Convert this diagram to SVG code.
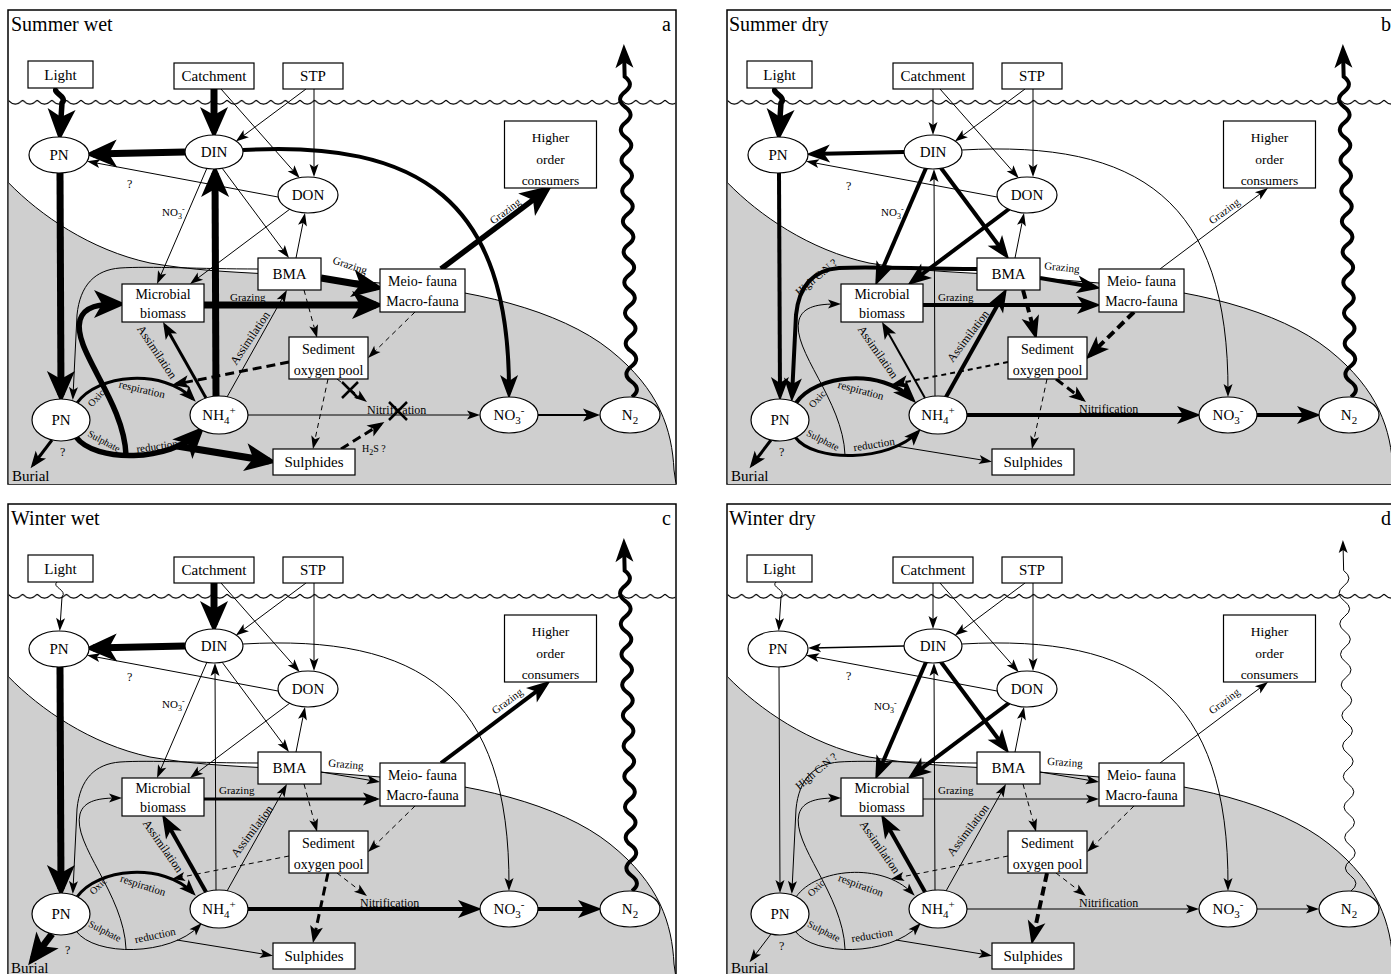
<svg xmlns="http://www.w3.org/2000/svg" xmlns:xlink="http://www.w3.org/1999/xlink" width="1391" height="974" viewBox="0 0 1391 974">
<style>
text{font-family:"Liberation Serif","DejaVu Serif",serif;fill:#000}
.frame{fill:#fff;stroke:#000;stroke-width:1.5}
.sed{fill:#cfcfcf}
.sedline{fill:none;stroke:#000;stroke-width:1}
.nd rect,.nd ellipse{fill:#fff;stroke:#000;stroke-width:1.2}
.nd text{text-anchor:middle}
.f15{font-size:15px}
.f14{font-size:14px}
.f13{font-size:13.5px}
.f12{font-size:12px}
.f11{font-size:11px}
.f10{font-size:10px}
.f8{font-size:8px}
.mid{text-anchor:middle}
.ttl{font-size:20px}
.conn{stroke:#000}
.w1{stroke-width:1;marker-end:url(#h1)}
.w15{stroke-width:1.6;marker-end:url(#h1)}
.w2{stroke-width:2;marker-end:url(#h2)}
.w3{stroke-width:3;marker-end:url(#h2)}
.w4{stroke-width:4;marker-end:url(#h3)}
.w5{stroke-width:5.5;marker-end:url(#h4)}
.w7{stroke-width:7;marker-end:url(#h4)}
.d{stroke-dasharray:5 4}
.dd{stroke-dasharray:9 5}
.xmark{stroke:#000;stroke-width:2.5;fill:none}
</style>
<defs>
  <!-- barbed arrowheads, tip sits a few px beyond the path end -->
  <marker id="h1" markerUnits="userSpaceOnUse" orient="auto" markerWidth="30" markerHeight="30" overflow="visible"><path d="M4,0 L-9,-4.5 L-6,0 L-9,4.5 Z" fill="#000"/></marker>
  <marker id="h2" markerUnits="userSpaceOnUse" orient="auto" markerWidth="30" markerHeight="30" overflow="visible"><path d="M4,0 L-13,-6.5 L-9,0 L-13,6.5 Z" fill="#000"/></marker>
  <marker id="h3" markerUnits="userSpaceOnUse" orient="auto" markerWidth="30" markerHeight="30" overflow="visible"><path d="M6,0 L-18,-9 L-12,0 L-18,9 Z" fill="#000"/></marker>
  <marker id="h4" markerUnits="userSpaceOnUse" orient="auto" markerWidth="40" markerHeight="40" overflow="visible"><path d="M8,0 L-24,-14 L-16,0 L-24,14 Z" fill="#000"/></marker>

  <!-- water surface ripple -->
  <pattern id="surf" patternUnits="userSpaceOnUse" x="8" y="99" width="14.6" height="8"><path d="M0,1.2 Q7.3,9 14.6,1.2" fill="none" stroke="#000" stroke-width="1.2"/></pattern>

  <!-- sediment body -->
  <path id="sed-shape" d="M8.75,183 C40,215 90,250 150,263 C190,270 230,272 270,274 L380,283 C470,288 560,310 610,350 C660,390 672,430 674,470 L676,484 L8.75,484 Z"/>
  <path id="sed-edge" d="M8.75,183 C40,215 90,250 150,263 C190,270 230,272 270,274 L380,283 C470,288 560,310 610,350 C660,390 672,430 674,470 L676,484"/>

  <!-- flux geometry shared by the four seasonal panels -->
  <path id="k-light" fill="none" d="M57,88 C51,93 68,96 62,103 L60,133"/>
  <path id="k-catch-din" fill="none" d="M214,89 L214,131"/>
  <path id="k-catch-don" fill="none" d="M221,89 L297,175"/>
  <path id="k-stp-din" fill="none" d="M306,89 L239,139"/>
  <path id="k-stp-don" fill="none" d="M314,89 L314,173"/>
  <path id="k-din-pn" fill="none" d="M185,152 L93,154"/>
  <path id="k-don-pn" fill="none" d="M278,197 L91,162"/>
  <path id="k-din-no3" fill="none" d="M243,150 C420,140 510,200 509,393"/>
  <path id="k-pn-pn" fill="none" d="M60,173 L61,395"/>
  <path id="k-nh4-din" fill="none" d="M216,396 L215,173"/>
  <path id="k-din-mic" fill="none" d="M207,168 L158.6,280.3"/>
  <path id="k-don-mic" fill="none" d="M290,209 L193.2,281.6"/>
  <path id="k-din-bma" fill="none" d="M222,168 L286.6,254.8"/>
  <path id="k-bma-don" fill="none" d="M296,258 L304.2,216.9"/>
  <path id="k-bma-meio" fill="none" d="M321,278 L376,287.3"/>
  <path id="k-mic-meio" fill="none" d="M204,305 L376,305"/>
  <path id="k-meio-hoc" fill="none" d="M441,269 L545.8,190.4"/>
  <path id="k-nh4-mic" fill="none" d="M206,398 L165,325.5"/>
  <path id="k-nh4-bma" fill="none" d="M227,397 L285,293.5"/>
  <path id="k-bma-sed" fill="none" d="M304,290 L316,334"/>
  <path id="k-meio-sed" fill="none" d="M415,312 L370.9,355.2"/>
  <path id="k-sed-oxic" fill="none" d="M289,362 L176,384.2"/>
  <path id="k-sed-nit" fill="none" d="M337,379 L363.8,399.6"/>
  <path id="k-sed-sul" fill="none" d="M328,379 L313.8,445"/>
  <path id="k-sul-nit" fill="none" d="M341,449 L381,424"/>
  <path id="k-nh4-no3" fill="none" d="M248,415 L476,415"/>
  <path id="k-no3-n2" fill="none" d="M538,415 L596,415"/>
  <path id="k-oxic" fill="none" d="M77,403 C97,374 163,368 193,399"/>
  <path id="k-sulph" fill="none" d="M76,437 C95,463 170,462 199,432"/>
  <path id="k-sulph-sul" fill="none" d="M177,446 L269,461"/>
  <path id="k-loop" fill="none" d="M126,455 C124,400 72,350 80,320 C84,306 100,304 118,304"/>
  <path id="k-bma-pn" fill="none" d="M258,269 C200,269 150,266 120,268 C95,270 80,285 77,315 L73,396"/>
  <path id="k-burial" fill="none" d="M52,440 L33,465"/>
  <path id="k-n2" fill="none" d="M632,397 q10,-7.63 -0.35,-15.26 t-0.35,-15.26 t-0.35,-15.26 t-0.35,-15.26 t-0.35,-15.26 t-0.35,-15.26 t-0.35,-15.26 t-0.35,-15.26 t-0.35,-15.26 t-0.35,-15.26 t-0.35,-15.26 t-0.35,-15.26 t-0.35,-15.26 t-0.35,-15.26 t-0.35,-15.26 t-0.35,-15.26 t-0.35,-15.26 t-0.35,-15.26 t-0.35,-15.26 t-0.35,-15.26 t-0.35,-15.26 L624,50"/>
</defs>

<rect width="1391" height="974" fill="#fff"/>

<!-- ===================== Summer wet ===================== -->
<g id="panel-a">
  <rect class="frame" x="8" y="10" width="668" height="474"/>
  <use href="#sed-shape" class="sed"/>
  <use href="#sed-edge" class="sedline"/>
  <rect x="8.75" y="99" width="666.5" height="8" fill="url(#surf)"/>
  <text class="ttl" x="11" y="31">Summer wet</text>
  <text class="ttl" x="662" y="31">a</text>
  <g id="a-connectors" class="conn">
    <use href="#k-light" class="w5"/>
    <use href="#k-catch-din" class="w7"/>
    <use href="#k-catch-don" class="w1"/>
    <use href="#k-stp-din" class="w1"/>
    <use href="#k-stp-don" class="w1"/>
    <use href="#k-din-pn" class="w7"/>
    <use href="#k-don-pn" class="w1"/>
    <use href="#k-din-no3" class="w4"/>
    <use href="#k-pn-pn" class="w7"/>
    <use href="#k-nh4-din" class="w7"/>
    <use href="#k-din-mic" class="w1"/>
    <use href="#k-don-mic" class="w1"/>
    <use href="#k-din-bma" class="w1"/>
    <use href="#k-bma-don" class="w1"/>
    <use href="#k-bma-meio" class="w7"/>
    <use href="#k-mic-meio" class="w7"/>
    <use href="#k-meio-hoc" class="w5"/>
    <use href="#k-nh4-mic" class="w3"/>
    <use href="#k-nh4-bma" class="w1"/>
    <use href="#k-bma-sed" class="w1 d"/>
    <use href="#k-meio-sed" class="w1 d"/>
    <use href="#k-sed-oxic" class="w3 dd"/>
    <use href="#k-sed-nit" class="w1 d"/>
    <use href="#k-sed-sul" class="w1 d"/>
    <use href="#k-sul-nit" class="w3 dd"/>
    <use href="#k-nh4-no3" class="w1"/>
    <use href="#k-no3-n2" class="w2"/>
    <use href="#k-oxic" class="w3"/>
    <use href="#k-sulph" class="w5"/>
    <use href="#k-sulph-sul" class="w7"/>
    <use href="#k-loop" class="w5"/>
    <use href="#k-bma-pn" class="w1"/>
    <use href="#k-burial" class="w3"/>
    <use href="#k-n2" class="w4"/>
    <path class="xmark" d="M342,382 L358,398 M358,382 L342,398"/>
    <path class="xmark" d="M389,402 L407,420 M407,402 L389,420"/>
  </g>
  <g id="a-labels">
    <text class="f11" x="162" y="216">NO<tspan class="f8" dy="3">3</tspan><tspan class="f8" dy="-7">-</tspan></text>
    <text class="f12" x="127" y="188">?</text>
    <text class="f11 mid" transform="translate(350,265) rotate(18)" y="4">Grazing</text>
    <text class="f11" x="230" y="301">Grazing</text>
    <text class="f11 mid" transform="translate(505,211) rotate(-37)" y="4">Grazing</text>
    <text class="f12 mid" transform="translate(157,352) rotate(56)" y="4">Assimilation</text>
    <text class="f12 mid" transform="translate(250,338) rotate(-56)" y="4">Assimilation</text>
    <text class="f10 mid" transform="translate(96,398) rotate(-48)" y="3.5">Oxic</text>
    <text class="f11 mid" transform="translate(142,389) rotate(13)" y="4">respiration</text>
    <text class="f10 mid" transform="translate(104,441) rotate(28)" y="3.5">Sulphate</text>
    <text class="f11 mid" transform="translate(157,446) rotate(-8)" y="4">reduction</text>
    <text class="f12" x="367" y="414">Nitrification</text>
    <text class="f12" x="60" y="456">?</text>
    <text class="f15" x="12" y="481">Burial</text>
    <text class="f10" x="362" y="452">H<tspan class="f8" dy="3">2</tspan><tspan dy="-3">S ?</tspan></text>
  </g>
  <g id="a-nodes" class="nd">
    <g id="a-light"><rect x="28" y="61" width="65" height="27"/><text class="f15" x="60.5" y="79.5">Light</text></g>
    <g id="a-catchment"><rect x="174" y="63" width="80" height="26"/><text class="f15" x="214" y="81">Catchment</text></g>
    <g id="a-stp"><rect x="283" y="63" width="60" height="26"/><text class="f15" x="313" y="81">STP</text></g>
    <g id="a-pn-water"><ellipse cx="59" cy="155" rx="30" ry="18"/><text class="f15" x="59" y="160">PN</text></g>
    <g id="a-din"><ellipse cx="214" cy="152" rx="29" ry="17"/><text class="f15" x="214" y="157">DIN</text></g>
    <g id="a-don"><ellipse cx="308" cy="195" rx="30" ry="18"/><text class="f15" x="308" y="200">DON</text></g>
    <g id="a-consumers"><rect x="504.5" y="121" width="92" height="67"/><text class="f13" x="550.5" y="142">Higher</text><text class="f13" x="550.5" y="164">order</text><text class="f13" x="550.5" y="185">consumers</text></g>
    <g id="a-microbial"><rect x="122" y="284" width="82" height="38"/><text class="f14" x="163" y="299">Microbial</text><text class="f14" x="163" y="318">biomass</text></g>
    <g id="a-bma"><rect x="258" y="258" width="63" height="32"/><text class="f15" x="289.5" y="279">BMA</text></g>
    <g id="a-fauna"><rect x="380" y="269" width="85" height="43"/><text class="f14" x="422.5" y="286">Meio- fauna</text><text class="f14" x="422.5" y="306">Macro-fauna</text></g>
    <g id="a-oxygen"><rect x="289" y="337" width="79" height="42"/><text class="f14" x="328.5" y="354">Sediment</text><text class="f14" x="328.5" y="375">oxygen pool</text></g>
    <g id="a-pn-sediment"><ellipse cx="61" cy="420" rx="29" ry="21"/><text class="f15" x="61" y="425">PN</text></g>
    <g id="a-nh4"><ellipse cx="219" cy="415" rx="29" ry="19"/><text class="f15" x="219" y="420">NH<tspan class="f11" dy="4">4</tspan><tspan class="f11" dy="-10">+</tspan></text></g>
    <g id="a-no3"><ellipse cx="509" cy="415" rx="29" ry="18"/><text class="f15" x="509" y="420">NO<tspan class="f11" dy="4">3</tspan><tspan class="f11" dy="-10">-</tspan></text></g>
    <g id="a-n2"><ellipse cx="630" cy="415" rx="30" ry="18"/><text class="f15" x="630" y="420">N<tspan class="f11" dy="4">2</tspan></text></g>
    <g id="a-sulphides"><rect x="273" y="449" width="82" height="26"/><text class="f15" x="314" y="467">Sulphides</text></g>
  </g>
</g>

<!-- ===================== Summer dry ===================== -->
<g id="panel-b" transform="translate(719,0)">
  <rect class="frame" x="8" y="10" width="668" height="474"/>
  <use href="#sed-shape" class="sed"/>
  <use href="#sed-edge" class="sedline"/>
  <rect x="8.75" y="99" width="666.5" height="8" fill="url(#surf)"/>
  <text class="ttl" x="10" y="31">Summer dry</text>
  <text class="ttl" x="662" y="31">b</text>
  <g id="b-connectors" class="conn">
    <use href="#k-light" class="w5"/>
    <use href="#k-catch-din" class="w1"/>
    <use href="#k-catch-don" class="w1"/>
    <use href="#k-stp-din" class="w1"/>
    <use href="#k-stp-don" class="w1"/>
    <use href="#k-din-pn" class="w4"/>
    <use href="#k-don-pn" class="w1"/>
    <use href="#k-din-no3" class="w1"/>
    <use href="#k-pn-pn" class="w4"/>
    <use href="#k-nh4-din" class="w1"/>
    <use href="#k-din-mic" class="w4"/>
    <use href="#k-don-mic" class="w4"/>
    <use href="#k-din-bma" class="w4"/>
    <use href="#k-bma-don" class="w1"/>
    <use href="#k-bma-meio" class="w4"/>
    <use href="#k-mic-meio" class="w4"/>
    <use href="#k-meio-hoc" class="w1"/>
    <use href="#k-nh4-mic" class="w2"/>
    <use href="#k-nh4-bma" class="w4"/>
    <use href="#k-bma-sed" class="w4 dd"/>
    <use href="#k-meio-sed" class="w4 dd"/>
    <use href="#k-sed-oxic" class="w2 d"/>
    <use href="#k-sed-nit" class="w3 dd"/>
    <use href="#k-sed-sul" class="w1 d"/>
    <use href="#k-nh4-no3" class="w4"/>
    <use href="#k-no3-n2" class="w4"/>
    <use href="#k-oxic" class="w4"/>
    <use href="#k-sulph" class="w3"/>
    <use href="#k-sulph-sul" class="w1"/>
    <use href="#k-loop" class="w1"/>
    <use href="#k-bma-pn" class="w4"/>
    <use href="#k-burial" class="w3"/>
    <use href="#k-n2" class="w4"/>
  </g>
  <g id="b-labels">
    <text class="f11" x="162" y="216">NO<tspan class="f8" dy="3">3</tspan><tspan class="f8" dy="-7">-</tspan></text>
    <text class="f12" x="127" y="190">?</text>
    <text class="f11 mid" transform="translate(343,267) rotate(6)" y="4">Grazing</text>
    <text class="f11" x="219" y="301">Grazing</text>
    <text class="f11 mid" transform="translate(505,211) rotate(-37)" y="4">Grazing</text>
    <text class="f12 mid" transform="translate(159,352) rotate(55)" y="4">Assimilation</text>
    <text class="f12 mid" transform="translate(249,336) rotate(-53)" y="4">Assimilation</text>
    <text class="f10 mid" transform="translate(98,399) rotate(-48)" y="3.5">Oxic</text>
    <text class="f11 mid" transform="translate(142,390) rotate(15)" y="4">respiration</text>
    <text class="f10 mid" transform="translate(104,440) rotate(27)" y="3.5">Sulphate</text>
    <text class="f11 mid" transform="translate(155,444) rotate(-9)" y="4">reduction</text>
    <text class="f12" x="360" y="413">Nitrification</text>
    <text class="f12" x="60" y="456">?</text>
    <text class="f15" x="12" y="481">Burial</text>
    <text class="f11 mid" transform="translate(97,277) rotate(-40)" y="4">High C:N ?</text>
  </g>
  <g id="b-nodes" class="nd">
    <g id="b-light"><rect x="28" y="61" width="65" height="27"/><text class="f15" x="60.5" y="79.5">Light</text></g>
    <g id="b-catchment"><rect x="174" y="63" width="80" height="26"/><text class="f15" x="214" y="81">Catchment</text></g>
    <g id="b-stp"><rect x="283" y="63" width="60" height="26"/><text class="f15" x="313" y="81">STP</text></g>
    <g id="b-pn-water"><ellipse cx="59" cy="155" rx="30" ry="18"/><text class="f15" x="59" y="160">PN</text></g>
    <g id="b-din"><ellipse cx="214" cy="152" rx="29" ry="17"/><text class="f15" x="214" y="157">DIN</text></g>
    <g id="b-don"><ellipse cx="308" cy="195" rx="30" ry="18"/><text class="f15" x="308" y="200">DON</text></g>
    <g id="b-consumers"><rect x="504.5" y="121" width="92" height="67"/><text class="f13" x="550.5" y="142">Higher</text><text class="f13" x="550.5" y="164">order</text><text class="f13" x="550.5" y="185">consumers</text></g>
    <g id="b-microbial"><rect x="122" y="284" width="82" height="38"/><text class="f14" x="163" y="299">Microbial</text><text class="f14" x="163" y="318">biomass</text></g>
    <g id="b-bma"><rect x="258" y="258" width="63" height="32"/><text class="f15" x="289.5" y="279">BMA</text></g>
    <g id="b-fauna"><rect x="380" y="269" width="85" height="43"/><text class="f14" x="422.5" y="286">Meio- fauna</text><text class="f14" x="422.5" y="306">Macro-fauna</text></g>
    <g id="b-oxygen"><rect x="289" y="337" width="79" height="42"/><text class="f14" x="328.5" y="354">Sediment</text><text class="f14" x="328.5" y="375">oxygen pool</text></g>
    <g id="b-pn-sediment"><ellipse cx="61" cy="420" rx="29" ry="21"/><text class="f15" x="61" y="425">PN</text></g>
    <g id="b-nh4"><ellipse cx="219" cy="415" rx="29" ry="19"/><text class="f15" x="219" y="420">NH<tspan class="f11" dy="4">4</tspan><tspan class="f11" dy="-10">+</tspan></text></g>
    <g id="b-no3"><ellipse cx="509" cy="415" rx="29" ry="18"/><text class="f15" x="509" y="420">NO<tspan class="f11" dy="4">3</tspan><tspan class="f11" dy="-10">-</tspan></text></g>
    <g id="b-n2"><ellipse cx="630" cy="415" rx="30" ry="18"/><text class="f15" x="630" y="420">N<tspan class="f11" dy="4">2</tspan></text></g>
    <g id="b-sulphides"><rect x="273" y="449" width="82" height="26"/><text class="f15" x="314" y="467">Sulphides</text></g>
  </g>
</g>

<!-- ===================== Winter wet ===================== -->
<g id="panel-c" transform="translate(0,494)">
  <rect class="frame" x="8" y="10" width="668" height="474"/>
  <use href="#sed-shape" class="sed"/>
  <use href="#sed-edge" class="sedline"/>
  <rect x="8.75" y="99" width="666.5" height="8" fill="url(#surf)"/>
  <text class="ttl" x="11" y="31">Winter wet</text>
  <text class="ttl" x="662" y="31">c</text>
  <g id="c-connectors" class="conn">
    <use href="#k-light" class="w1"/>
    <use href="#k-catch-din" class="w7"/>
    <use href="#k-catch-don" class="w1"/>
    <use href="#k-stp-din" class="w1"/>
    <use href="#k-stp-don" class="w1"/>
    <use href="#k-din-pn" class="w7"/>
    <use href="#k-don-pn" class="w1"/>
    <use href="#k-din-no3" class="w1"/>
    <use href="#k-pn-pn" class="w7"/>
    <use href="#k-nh4-din" class="w1"/>
    <use href="#k-din-mic" class="w1"/>
    <use href="#k-don-mic" class="w1"/>
    <use href="#k-din-bma" class="w1"/>
    <use href="#k-bma-don" class="w1"/>
    <use href="#k-bma-meio" class="w1"/>
    <use href="#k-mic-meio" class="w3"/>
    <use href="#k-meio-hoc" class="w4"/>
    <use href="#k-nh4-mic" class="w4"/>
    <use href="#k-nh4-bma" class="w1"/>
    <use href="#k-bma-sed" class="w1 d"/>
    <use href="#k-meio-sed" class="w1 d"/>
    <use href="#k-sed-oxic" class="w1 d"/>
    <use href="#k-sed-nit" class="w1 d"/>
    <use href="#k-sed-sul" class="w3 dd"/>
    <use href="#k-nh4-no3" class="w4"/>
    <use href="#k-no3-n2" class="w4"/>
    <use href="#k-oxic" class="w3"/>
    <use href="#k-sulph" class="w1"/>
    <use href="#k-sulph-sul" class="w1"/>
    <use href="#k-loop" class="w1"/>
    <use href="#k-bma-pn" class="w1"/>
    <use href="#k-burial" class="w7"/>
    <use href="#k-n2" class="w4"/>
  </g>
  <g id="c-labels">
    <text class="f11" x="162" y="214">NO<tspan class="f8" dy="3">3</tspan><tspan class="f8" dy="-7">-</tspan></text>
    <text class="f12" x="127" y="187">?</text>
    <text class="f11 mid" transform="translate(346,270) rotate(5)" y="4">Grazing</text>
    <text class="f11" x="219" y="300">Grazing</text>
    <text class="f11 mid" transform="translate(507,207) rotate(-37)" y="4">Grazing</text>
    <text class="f12 mid" transform="translate(163,352) rotate(55)" y="4">Assimilation</text>
    <text class="f12 mid" transform="translate(252,337) rotate(-53)" y="4">Assimilation</text>
    <text class="f10 mid" transform="translate(98,392) rotate(-45)" y="3.5">Oxic</text>
    <text class="f11 mid" transform="translate(143,391) rotate(18)" y="4">respiration</text>
    <text class="f10 mid" transform="translate(105,437) rotate(27)" y="3.5">Sulphate</text>
    <text class="f11 mid" transform="translate(155,441) rotate(-12)" y="4">reduction</text>
    <text class="f12" x="360" y="413">Nitrification</text>
    <text class="f12" x="65" y="460">?</text>
    <text class="f15" x="11" y="479">Burial</text>
  </g>
  <g id="c-nodes" class="nd">
    <g id="c-light"><rect x="28" y="61" width="65" height="27"/><text class="f15" x="60.5" y="79.5">Light</text></g>
    <g id="c-catchment"><rect x="174" y="63" width="80" height="26"/><text class="f15" x="214" y="81">Catchment</text></g>
    <g id="c-stp"><rect x="283" y="63" width="60" height="26"/><text class="f15" x="313" y="81">STP</text></g>
    <g id="c-pn-water"><ellipse cx="59" cy="155" rx="30" ry="18"/><text class="f15" x="59" y="160">PN</text></g>
    <g id="c-din"><ellipse cx="214" cy="152" rx="29" ry="17"/><text class="f15" x="214" y="157">DIN</text></g>
    <g id="c-don"><ellipse cx="308" cy="195" rx="30" ry="18"/><text class="f15" x="308" y="200">DON</text></g>
    <g id="c-consumers"><rect x="504.5" y="121" width="92" height="67"/><text class="f13" x="550.5" y="142">Higher</text><text class="f13" x="550.5" y="164">order</text><text class="f13" x="550.5" y="185">consumers</text></g>
    <g id="c-microbial"><rect x="122" y="284" width="82" height="38"/><text class="f14" x="163" y="299">Microbial</text><text class="f14" x="163" y="318">biomass</text></g>
    <g id="c-bma"><rect x="258" y="258" width="63" height="32"/><text class="f15" x="289.5" y="279">BMA</text></g>
    <g id="c-fauna"><rect x="380" y="269" width="85" height="43"/><text class="f14" x="422.5" y="286">Meio- fauna</text><text class="f14" x="422.5" y="306">Macro-fauna</text></g>
    <g id="c-oxygen"><rect x="289" y="337" width="79" height="42"/><text class="f14" x="328.5" y="354">Sediment</text><text class="f14" x="328.5" y="375">oxygen pool</text></g>
    <g id="c-pn-sediment"><ellipse cx="61" cy="420" rx="29" ry="21"/><text class="f15" x="61" y="425">PN</text></g>
    <g id="c-nh4"><ellipse cx="219" cy="415" rx="29" ry="19"/><text class="f15" x="219" y="420">NH<tspan class="f11" dy="4">4</tspan><tspan class="f11" dy="-10">+</tspan></text></g>
    <g id="c-no3"><ellipse cx="509" cy="415" rx="29" ry="18"/><text class="f15" x="509" y="420">NO<tspan class="f11" dy="4">3</tspan><tspan class="f11" dy="-10">-</tspan></text></g>
    <g id="c-n2"><ellipse cx="630" cy="415" rx="30" ry="18"/><text class="f15" x="630" y="420">N<tspan class="f11" dy="4">2</tspan></text></g>
    <g id="c-sulphides"><rect x="273" y="449" width="82" height="26"/><text class="f15" x="314" y="467">Sulphides</text></g>
  </g>
</g>

<!-- ===================== Winter dry ===================== -->
<g id="panel-d" transform="translate(719,494)">
  <rect class="frame" x="8" y="10" width="668" height="474"/>
  <use href="#sed-shape" class="sed"/>
  <use href="#sed-edge" class="sedline"/>
  <rect x="8.75" y="99" width="666.5" height="8" fill="url(#surf)"/>
  <text class="ttl" x="10" y="31">Winter dry</text>
  <text class="ttl" x="662" y="31">d</text>
  <g id="d-connectors" class="conn">
    <use href="#k-light" class="w1"/>
    <use href="#k-catch-din" class="w1"/>
    <use href="#k-catch-don" class="w1"/>
    <use href="#k-stp-din" class="w1"/>
    <use href="#k-stp-don" class="w1"/>
    <use href="#k-din-pn" class="w15"/>
    <use href="#k-don-pn" class="w1"/>
    <use href="#k-din-no3" class="w1"/>
    <use href="#k-pn-pn" class="w1"/>
    <use href="#k-nh4-din" class="w1"/>
    <use href="#k-din-mic" class="w4"/>
    <use href="#k-don-mic" class="w4"/>
    <use href="#k-din-bma" class="w4"/>
    <use href="#k-bma-don" class="w1"/>
    <use href="#k-bma-meio" class="w1"/>
    <use href="#k-mic-meio" class="w1"/>
    <use href="#k-meio-hoc" class="w1"/>
    <use href="#k-nh4-mic" class="w4"/>
    <use href="#k-nh4-bma" class="w1"/>
    <use href="#k-bma-sed" class="w1 d"/>
    <use href="#k-meio-sed" class="w1 d"/>
    <use href="#k-sed-oxic" class="w1 d"/>
    <use href="#k-sed-nit" class="w1 d"/>
    <use href="#k-sed-sul" class="w4 dd"/>
    <use href="#k-nh4-no3" class="w1"/>
    <use href="#k-no3-n2" class="w1"/>
    <use href="#k-oxic" class="w1"/>
    <use href="#k-sulph" class="w1"/>
    <use href="#k-sulph-sul" class="w1"/>
    <use href="#k-loop" class="w1"/>
    <use href="#k-bma-pn" class="w1"/>
    <use href="#k-burial" class="w1"/>
    <use href="#k-n2" class="w1"/>
  </g>
  <g id="d-labels">
    <text class="f11" x="155" y="216">NO<tspan class="f8" dy="3">3</tspan><tspan class="f8" dy="-7">-</tspan></text>
    <text class="f12" x="127" y="186">?</text>
    <text class="f11 mid" transform="translate(346,268) rotate(4)" y="4">Grazing</text>
    <text class="f11" x="219" y="300">Grazing</text>
    <text class="f11 mid" transform="translate(505,207) rotate(-37)" y="4">Grazing</text>
    <text class="f12 mid" transform="translate(161,353) rotate(55)" y="4">Assimilation</text>
    <text class="f12 mid" transform="translate(249,336) rotate(-53)" y="4">Assimilation</text>
    <text class="f10 mid" transform="translate(97,394) rotate(-45)" y="3.5">Oxic</text>
    <text class="f11 mid" transform="translate(142,391) rotate(20)" y="4">respiration</text>
    <text class="f10 mid" transform="translate(105,437) rotate(27)" y="3.5">Sulphate</text>
    <text class="f11 mid" transform="translate(153,441) rotate(-9)" y="4">reduction</text>
    <text class="f12" x="360" y="413">Nitrification</text>
    <text class="f12" x="60" y="456">?</text>
    <text class="f15" x="12" y="479">Burial</text>
    <text class="f11 mid" transform="translate(97,277) rotate(-40)" y="4">High C:N ?</text>
  </g>
  <g id="d-nodes" class="nd">
    <g id="d-light"><rect x="28" y="61" width="65" height="27"/><text class="f15" x="60.5" y="79.5">Light</text></g>
    <g id="d-catchment"><rect x="174" y="63" width="80" height="26"/><text class="f15" x="214" y="81">Catchment</text></g>
    <g id="d-stp"><rect x="283" y="63" width="60" height="26"/><text class="f15" x="313" y="81">STP</text></g>
    <g id="d-pn-water"><ellipse cx="59" cy="155" rx="30" ry="18"/><text class="f15" x="59" y="160">PN</text></g>
    <g id="d-din"><ellipse cx="214" cy="152" rx="29" ry="17"/><text class="f15" x="214" y="157">DIN</text></g>
    <g id="d-don"><ellipse cx="308" cy="195" rx="30" ry="18"/><text class="f15" x="308" y="200">DON</text></g>
    <g id="d-consumers"><rect x="504.5" y="121" width="92" height="67"/><text class="f13" x="550.5" y="142">Higher</text><text class="f13" x="550.5" y="164">order</text><text class="f13" x="550.5" y="185">consumers</text></g>
    <g id="d-microbial"><rect x="122" y="284" width="82" height="38"/><text class="f14" x="163" y="299">Microbial</text><text class="f14" x="163" y="318">biomass</text></g>
    <g id="d-bma"><rect x="258" y="258" width="63" height="32"/><text class="f15" x="289.5" y="279">BMA</text></g>
    <g id="d-fauna"><rect x="380" y="269" width="85" height="43"/><text class="f14" x="422.5" y="286">Meio- fauna</text><text class="f14" x="422.5" y="306">Macro-fauna</text></g>
    <g id="d-oxygen"><rect x="289" y="337" width="79" height="42"/><text class="f14" x="328.5" y="354">Sediment</text><text class="f14" x="328.5" y="375">oxygen pool</text></g>
    <g id="d-pn-sediment"><ellipse cx="61" cy="420" rx="29" ry="21"/><text class="f15" x="61" y="425">PN</text></g>
    <g id="d-nh4"><ellipse cx="219" cy="415" rx="29" ry="19"/><text class="f15" x="219" y="420">NH<tspan class="f11" dy="4">4</tspan><tspan class="f11" dy="-10">+</tspan></text></g>
    <g id="d-no3"><ellipse cx="509" cy="415" rx="29" ry="18"/><text class="f15" x="509" y="420">NO<tspan class="f11" dy="4">3</tspan><tspan class="f11" dy="-10">-</tspan></text></g>
    <g id="d-n2"><ellipse cx="630" cy="415" rx="30" ry="18"/><text class="f15" x="630" y="420">N<tspan class="f11" dy="4">2</tspan></text></g>
    <g id="d-sulphides"><rect x="273" y="449" width="82" height="26"/><text class="f15" x="314" y="467">Sulphides</text></g>
  </g>
</g>
</svg>
